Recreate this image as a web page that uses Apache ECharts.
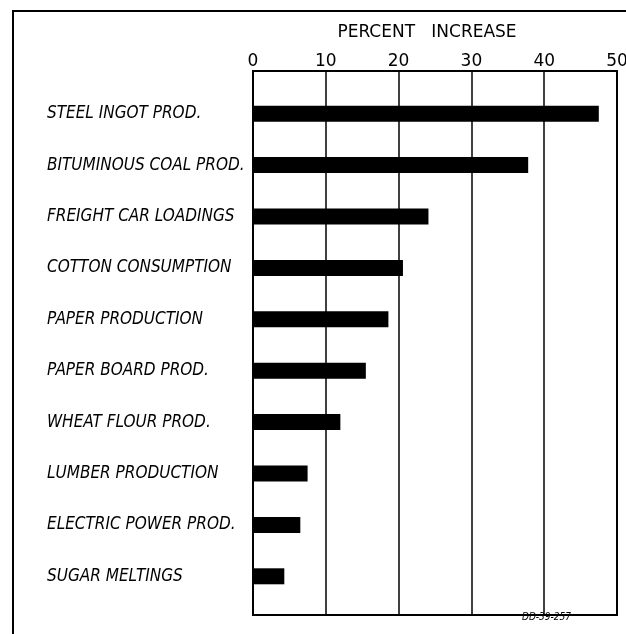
<!DOCTYPE html>
<html>
<head>
<meta charset="utf-8">
<script src="https://cdn.jsdelivr.net/npm/echarts@6/dist/echarts.min.js"></script>
<style>
html,body{margin:0;padding:0;background:#fff;}
#chart{width:626px;height:634px;}
</style>
</head>
<body>
<div id="chart"></div>
<script>
const categories = [
  "STEEL INGOT PROD.",
  "BITUMINOUS COAL PROD.",
  "FREIGHT CAR LOADINGS",
  "COTTON CONSUMPTION",
  "PAPER PRODUCTION",
  "PAPER BOARD PROD.",
  "WHEAT FLOUR PROD.",
  "LUMBER PRODUCTION",
  "ELECTRIC POWER PROD.",
  "SUGAR MELTINGS"
];
const percentIncrease = [47.5, 37.8, 24.1, 20.6, 18.6, 15.5, 12.0, 7.5, 6.5, 4.3];
const tickValues = [0, 10, 20, 30, 40, 50];
const axisTitle = "PERCENT   INCREASE";
const footnote = "DD-39-257";

const labelFont = "'Liberation Sans Narrow', 'DejaVu Sans Condensed', 'DejaVu Sans', sans-serif";
const chart = echarts.init(document.getElementById('chart'));
chart.setOption({
  animation: false,
  backgroundColor: '#fff',
  grid: [
    {left: 253, right: 9, top: 71, bottom: 19, show: true, borderColor: '#000', borderWidth: 2, backgroundColor: 'transparent', outerBoundsMode: 'none', containLabel: false},
    {left: 253, right: 9, top: 88, bottom: 32, outerBoundsMode: 'none', containLabel: false}
  ],
  xAxis: [
    {
      gridIndex: 0, type: 'value', position: 'top', min: tickValues[0], max: tickValues[tickValues.length - 1], interval: 10,
      name: axisTitle, nameLocation: 'middle', nameGap: 30,
      nameTextStyle: {fontFamily: "'DejaVu Sans', sans-serif", fontSize: 17, color: '#000', padding: [0, 16, 0, 0]},
      axisLine: {show: true, lineStyle: {color: '#000', width: 2}},
      axisTick: {show: false},
      axisLabel: {fontFamily: "'DejaVu Sans', sans-serif", fontSize: 17, color: '#000', margin: 1},
      splitLine: {show: true, lineStyle: {color: '#000', width: 1.5}}
    },
    {
      gridIndex: 1, type: 'value', min: 0, max: 50, show: false
    }
  ],
  yAxis: [
    {gridIndex: 0, type: 'value', show: false},
    {
      gridIndex: 1, type: 'category', data: categories, inverse: true,
      axisLine: {show: false}, axisTick: {show: false},
      axisLabel: {align: 'left', margin: 206, fontFamily: labelFont, fontStyle: 'italic', fontSize: 17, color: '#000'}
    }
  ],
  series: [{
    type: 'bar', xAxisIndex: 1, yAxisIndex: 1, data: percentIncrease,
    barWidth: 16, itemStyle: {color: '#000'}
  }],
  graphic: [
    {type: 'rect', shape: {x: 13, y: 11, width: 700, height: 700}, style: {fill: 'none', stroke: '#000', lineWidth: 2}, silent: true},
    {type: 'text', left: 522, top: 612, style: {text: footnote, font: "italic 10px " + labelFont, fill: '#000'}}
  ]
});
</script>
</body>
</html>
